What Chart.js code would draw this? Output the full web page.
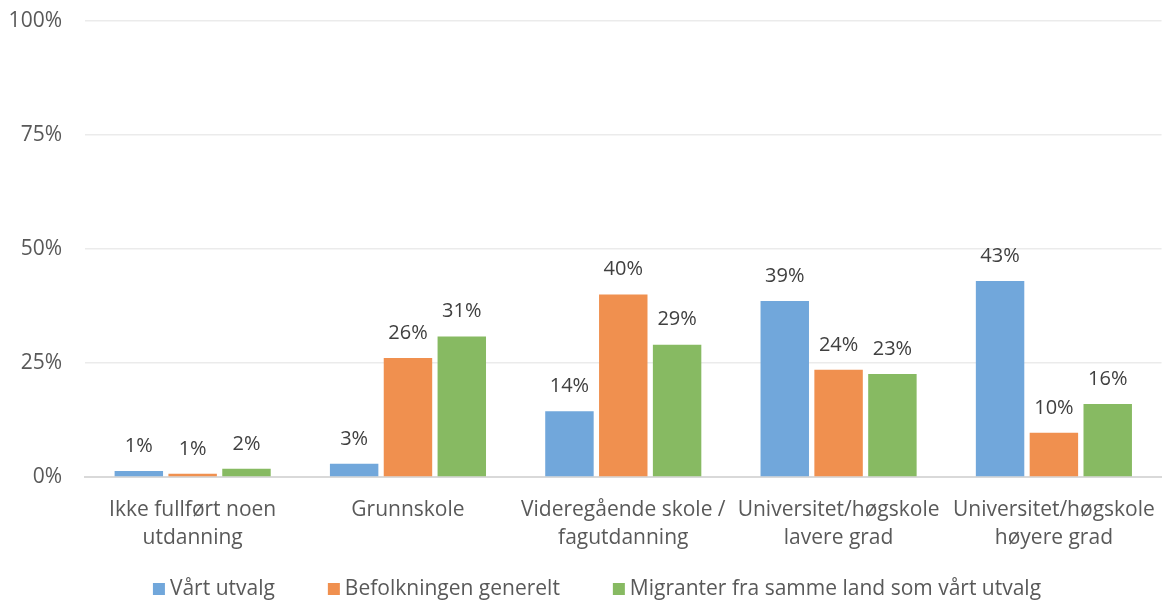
<!DOCTYPE html>
<html>
<head>
<meta charset="utf-8">
<script src="https://cdn.jsdelivr.net/npm/chart.js@4"></script>
<style>
  html, body { margin: 0; padding: 0; background: #fff; }
  #wrap { width: 1165px; height: 603px; }
</style>
</head>
<body>
<div id="wrap"><canvas id="barChart"></canvas></div>
<script>
// Categories and series (percent)
const categories = [
  ["Ikke fullført noen", "utdanning"],
  ["Grunnskole"],
  ["Videregående skole /", "fagutdanning"],
  ["Universitet/høgskole", "lavere grad"],
  ["Universitet/høgskole", "høyere grad"]
];
const seriesNames = ["Vårt utvalg", "Befolkningen generelt", "Migranter fra samme land som vårt utvalg"];
const vartUtvalg = [1.3, 2.9, 14.4, 38.6, 43.0];
const befolkningen = [0.7, 26.1, 40.0, 23.5, 9.7];
const migranter = [1.8, 30.8, 29.0, 22.6, 16.0];
const yTicks = [0, 25, 50, 75, 100];

const colors = ["#71A7DB", "#F0904F", "#87BA62"];
const FONT = "'Open Sans', sans-serif";

// Value labels above each bar
const valueLabels = {
  id: "valueLabels",
  afterDatasetsDraw(chart) {
    const ctx = chart.ctx;
    ctx.save();
    ctx.font = "20px " + FONT;
    ctx.fillStyle = "#404040";
    ctx.textAlign = "center";
    ctx.textBaseline = "middle";
    chart.data.datasets.forEach((ds, i) => {
      chart.getDatasetMeta(i).data.forEach((bar, j) => {
        ctx.fillText(Math.round(ds.data[j]) + "%", bar.x, bar.y - 25);
      });
    });
    ctx.restore();
  }
};

// Legend drawn at the bottom, Excel-like spacing
const bottomLegend = {
  id: "bottomLegend",
  afterDraw(chart) {
    const ctx = chart.ctx;
    const box = 12, textGap = 5, itemGap = 53, y = 589;
    ctx.save();
    ctx.font = "21px " + FONT;
    ctx.textBaseline = "middle";
    const items = chart.data.datasets.map(ds => ({
      text: ds.label, color: ds.backgroundColor, w: ctx.measureText(ds.label).width
    }));
    let total = items.reduce((s, it) => s + box + textGap + it.w, 0) + itemGap * (items.length - 1);
    let x = 597 - total / 2;
    items.forEach(it => {
      ctx.fillStyle = it.color;
      ctx.fillRect(x, y - box / 2, box, box);
      ctx.fillStyle = "#595959";
      ctx.fillText(it.text, x + box + textGap, y);
      x += box + textGap + it.w + itemGap;
    });
    ctx.restore();
  }
};

new Chart(document.getElementById("barChart"), {
  type: "bar",
  data: {
    labels: categories,
    datasets: [
      { label: seriesNames[0], data: vartUtvalg, backgroundColor: colors[0] },
      { label: seriesNames[1], data: befolkningen, backgroundColor: colors[1] },
      { label: seriesNames[2], data: migranter, backgroundColor: colors[2] }
    ]
  },
  options: {
    responsive: true,
    maintainAspectRatio: false,
    animation: false,
    datasets: {
      bar: { categoryPercentage: 0.75, barPercentage: 0.9 }
    },
    layout: { padding: { top: 21, right: 2, left: 0, bottom: 40 } },
    scales: {
      x: {
        grid: { display: false },
        border: { color: "#D9D9D9", width: 2 },
        ticks: {
          color: "#595959",
          font: { family: FONT, size: 21, lineHeight: 1.38 },
          maxRotation: 0,
          autoSkip: false,
          padding: 10
        }
      },
      y: {
        min: 0,
        max: 100,
        afterBuildTicks(axis) {
          axis.ticks = yTicks.map(v => ({ value: v }));
        },
        afterFit(axis) { axis.width = 85; },
        grid: { color: "#EBEBEB", lineWidth: 1.5, drawTicks: true, tickLength: 22, tickColor: "rgba(0,0,0,0)" },
        border: { display: false },
        ticks: {
          color: "#595959",
          font: { family: FONT, size: 21 },
          padding: 1,
          callback: v => v + "%"
        }
      }
    },
    plugins: {
      tooltip: { enabled: false },
      legend: { display: false }
    }
  },
  plugins: [valueLabels, bottomLegend]
});
</script>
</body>
</html>
